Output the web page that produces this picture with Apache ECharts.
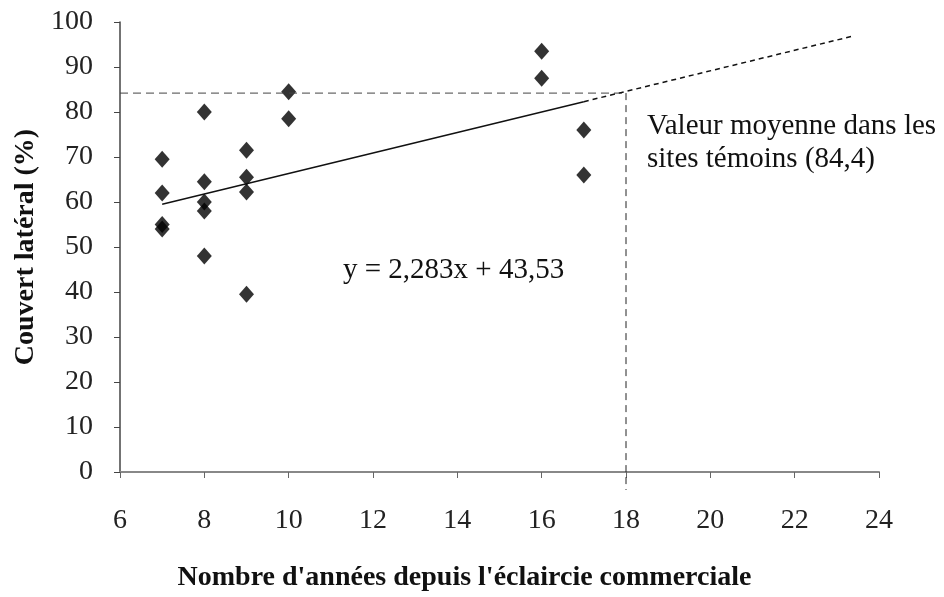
<!DOCTYPE html>
<html><head><meta charset="utf-8">
<script src="https://cdn.jsdelivr.net/npm/echarts@6/dist/echarts.min.js"></script>
<style>html,body{margin:0;padding:0;background:#fff}#c{width:944px;height:597px}</style>
</head><body><div id="c"></div>
<script>
// Data
const pointsX = [7,7,7,7, 8,8,8,8,8, 9,9,9,9, 10,10, 16,16, 17,17];
const pointsY = [69.5,62,55,54, 80,64.5,60,58,48, 71.5,65.5,62.2,39.5, 84.5,78.5, 93.5,87.5, 76,66];
const trendSolid = [[7,59.5],[17,82.3]];
const trendDashed = [[17,82.3],[23.35,96.8]];
const meanValue = 84.2;
const meanX = 18;
const xTicks = {min:6, max:24, interval:2};
const yTicks = {min:0, max:100, interval:10};

const font = "'Liberation Serif', 'DejaVu Serif', serif";
const chart = echarts.init(document.getElementById('c'));
chart.setOption({
  animation:false,
  backgroundColor:'#fff',
  textStyle:{fontFamily:font},
  grid:{left:120, right:65, top:22, bottom:125},
  xAxis:{type:'value', min:xTicks.min, max:xTicks.max, interval:xTicks.interval,
    name:"Nombre d'années depuis l'éclaircie commerciale", nameLocation:'middle', nameGap:92,
    nameTextStyle:{fontFamily:font, fontSize:28, fontWeight:'bold', color:'#111', padding:[0,70,0,0]},
    axisLine:{onZero:false, lineStyle:{color:'#888', width:2}},
    axisTick:{show:true, inside:false, length:6, lineStyle:{color:'#666'}},
    axisLabel:{fontFamily:font, fontSize:28, color:'#222', margin:35},
    splitLine:{show:false}},
  yAxis:{type:'value', min:yTicks.min, max:yTicks.max, interval:yTicks.interval,
    name:'Couvert latéral (%)', nameLocation:'middle', nameGap:78,
    nameTextStyle:{fontFamily:font, fontSize:28, fontWeight:'bold', color:'#111'},
    axisLine:{show:true, lineStyle:{color:'#444', width:1.5}},
    axisTick:{show:true, inside:false, length:6, lineStyle:{color:'#444'}},
    axisLabel:{fontFamily:font, fontSize:28, color:'#222', margin:27},
    splitLine:{show:false}},
  series:[
    {type:'line', data:[[xTicks.min, meanValue],[meanX, meanValue]], symbol:'none', silent:true,
      lineStyle:{color:'#444', width:1, type:[8,5]}},
    {type:'line', data:[[meanX, meanValue],[meanX, -4]], symbol:'none', silent:true, clip:false,
      lineStyle:{color:'#222', width:1, type:[7,5]}},
    {type:'line', data:trendSolid, symbol:'none', silent:true,
      lineStyle:{color:'#111', width:1.5}},
    {type:'line', data:trendDashed, symbol:'none', silent:true,
      lineStyle:{color:'#111', width:1.5, type:[5,4]}},
    {type:'scatter', data:pointsX.map((x,i)=>[x, pointsY[i]]), symbol:'diamond', symbolSize:[15,17],
      itemStyle:{color:'#000'}}
  ],
  graphic:[
    {type:'text', left:343, top:256, style:{text:'y = 2,283x + 43,53', fontFamily:font, fontSize:29, fill:'#111'}},
    {type:'text', left:647, top:110, style:{text:'Valeur moyenne dans les\nsites témoins (84,4)', fontFamily:font, fontSize:29, fill:'#111', lineHeight:33}}
  ]
});
</script></body></html>
